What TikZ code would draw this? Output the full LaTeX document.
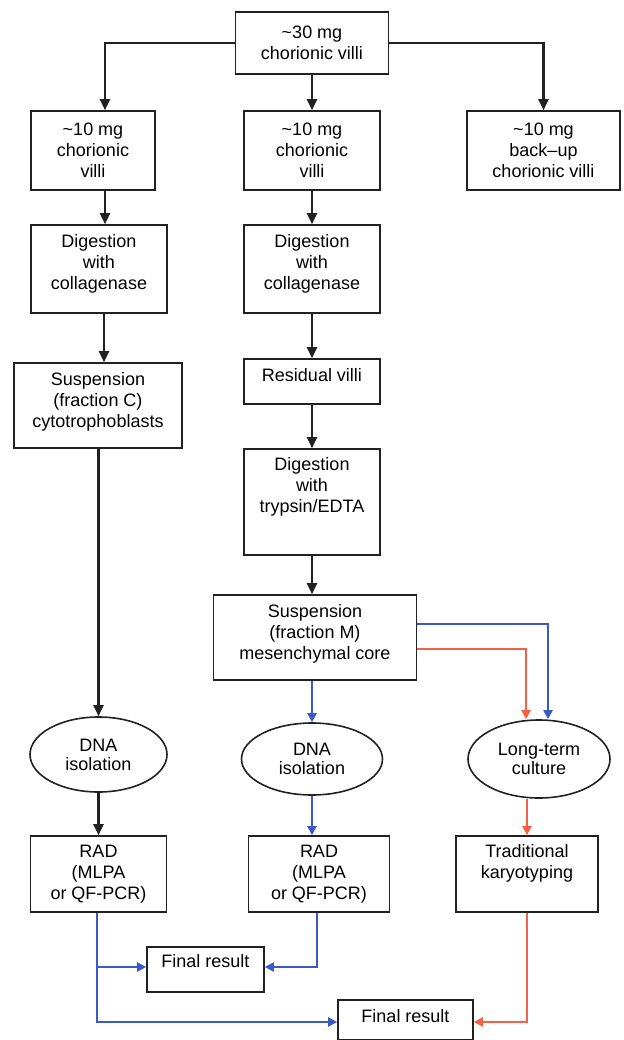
\documentclass[tikz,border=0pt]{standalone}
\usepackage{fontspec}
\setmainfont{Liberation Sans}
\usetikzlibrary{shapes.geometric,arrows.meta}
\definecolor{c0}{rgb}{0.13,0.13,0.13}
\definecolor{cb}{rgb}{0.22,0.35,0.78}
\definecolor{cr}{rgb}{0.96,0.38,0.28}
\tikzset{%
  box/.style 2 args={draw=c0,line width=1.6pt,rectangle,align=center,inner sep=2pt,
    font=\fontsize{18}{21}\selectfont,minimum width=#1,minimum height=#2},
  oval/.style 2 args={draw=c0,line width=1.6pt,ellipse,align=center,inner sep=0pt,
    font=\fontsize{18}{19}\selectfont,minimum width=#1,minimum height=#2},
  lift/.style={text depth=#1},
  blk/.style={c0,line width=2.2pt,-{Triangle[length=11pt,width=10pt]}},
  blu/.style={cb,line width=2pt,-{Triangle[length=9pt,width=9pt]}},
  rd/.style={cr,line width=2.2pt,-{Triangle[length=9pt,width=9pt]}}
}

\begin{document}
\begin{tikzpicture}[x=1pt,y=-1pt]
  \useasboundingbox (0,0) rectangle (623,1040);
  \node[box={153pt}{62pt}] (top) at (312,43) {\textasciitilde30 mg\\chorionic villi};
  \node[box={124pt}{79pt}] (a1) at (93,150.5) {\textasciitilde10 mg\\chorionic\\villi};
  \node[box={136pt}{79pt}] (b1) at (312,150.5) {\textasciitilde10 mg\\chorionic\\villi};
  \node[box={153pt}{79pt}] (c1) at (543.5,150.5) {\textasciitilde10 mg\\back--up\\chorionic villi};
  %%% left column
  \node[box={136pt}{88pt},lift=14pt] (a2) at (99,269) {Digestion\\with\\collagenase};
  \node[box={168pt}{85pt},lift=12pt] (a3) at (98,405.5) {Suspension\\(fraction C)\\cytotrophoblasts};
  \node[oval={137pt}{75pt}] (a4) at (98.5,754.5) {DNA\\isolation};
  \node[box={136pt}{76pt}] (a5) at (98.5,874) {RAD\\(MLPA\\or QF-PCR)};
  %%% middle column
  \node[box={136pt}{88pt},lift=14pt] (b2) at (312,269) {Digestion\\with\\collagenase};
  \node[box={136pt}{45pt},lift=13pt] (b3) at (312,381.5) {Residual villi};
  \node[box={136pt}{106pt},lift=34pt] (b4) at (312,502) {Digestion\\with\\trypsin/EDTA};
  \node[box={203pt}{85pt},lift=12pt] (b5) at (315,637.5) {Suspension\\(fraction M)\\mesenchymal core};
  \node[oval={141pt}{72pt}] (b6) at (312,759) {DNA\\isolation};
  \node[box={141pt}{76pt}] (b7) at (319,874) {RAD\\(MLPA\\or QF-PCR)};
  %%% right column
  \node[oval={142pt}{78pt}] (c2) at (539,759) {Long-term\\culture};
  \node[box={142pt}{76pt},lift=25pt] (c3) at (527,874) {Traditional\\karyotyping};
  %%% results
  \node[box={117pt}{45pt},lift=17pt] (f1) at (205.5,969.5) {Final result};
  \node[box={135pt}{40pt},lift=9pt] (f2) at (405.5,1020) {Final result};
  %%% black arrows
  \draw[blk] (top.west) -| ([xshift=12pt]a1.north);
  \draw[blk] (top.south) -- (b1.north);
  \draw[blk] (top.east) -| (c1.north);
  \draw[blk] ([xshift=12pt]a1.south) -- ([xshift=12pt]a1.south |- a2.north);
  \draw[blk] ([xshift=5pt]a2.south) -- ([xshift=5pt]a2.south |- a3.north);
  \draw[blk] (a3.south -| a4.north) -- (a4.north);
  \draw[blk] (a4.south) -- (a4.south |- a5.north);
  \draw[blk] (b1.south) -- (b2.north);
  \draw[blk] (b2.south) -- (b3.north);
  \draw[blk] (b3.south) -- (b4.north);
  \draw[blk] (b4.south) -- (b4.south |- b5.north);
  %%% blue and red arrows
  \draw[blu] (b5.south -| b6.north) -- (b6.north);
  \draw[blu] ([yshift=13.5pt]b5.east) -| ([xshift=9pt]c2.north);
  \draw[rd] ([yshift=-11.5pt]b5.east) -| ([xshift=-13pt]c2.north);
  \draw[blu] (b6.south) -- (b6.south |- b7.north);
  \draw[rd] (c2.south -| c3.north) -- (c3.north);
  \draw[blu] ([xshift=-1.5pt]a5.south) |- ([yshift=2.5pt]f1.west);
  \draw[blu] ([xshift=-1.5pt]a5.south) |- ([yshift=-2pt]f2.west);
  \draw[blu] ([xshift=-2pt]b7.south) |- ([yshift=2.5pt]f1.east);
  \draw[rd] (c3.south) |- ([yshift=-2pt]f2.east);
\end{tikzpicture}
\end{document}
